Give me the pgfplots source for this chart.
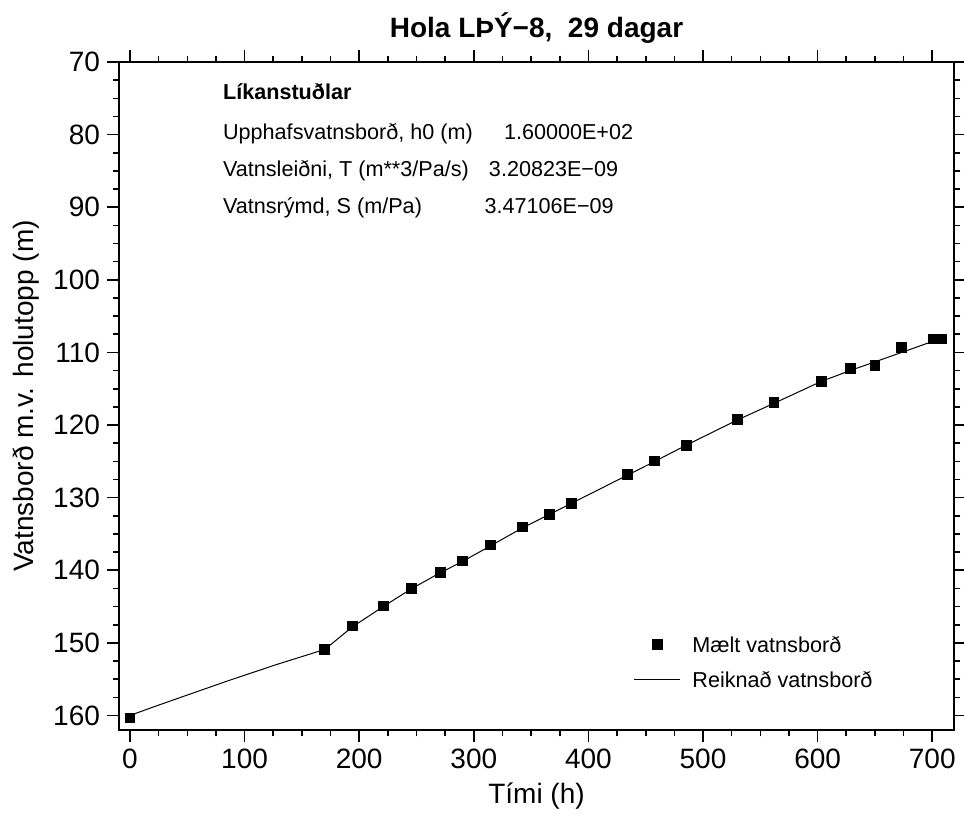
\documentclass[border=0pt]{standalone}
\usepackage{pgfplots}
\pgfplotsset{compat=1.18}
\usepackage{fontspec}
\setmainfont{Liberation Sans}
\pgfplotsset{
  markleg/.style={legend image code/.code={\draw[mark repeat=2,mark phase=2,##1] plot coordinates {(0pt,0pt) (11.5pt,0pt) (23pt,0pt)};}},
  lineleg/.style={legend image code/.code={\draw[##1] (0pt,0pt) -- (23pt,0pt);}},
}
\begin{document}
\begin{tikzpicture}
\path[use as bounding box] (-59.5pt,-44.5pt) rectangle (422.5pt,365pt);
\begin{axis}[
  at={(0pt,0pt)}, anchor=south west,
  scale only axis, width=417.5pt, height=334pt,
  xmin=-9.6, xmax=719, ymin=70, ymax=162, y dir=reverse,
  xtick={0,100,...,700}, ytick={70,80,...,160},
  minor x tick num=3, minor y tick num=3,
  tick align=outside,
  axis line style={line width=0.9pt},
  major tick length=6pt, minor tick length=3.2pt,
  every tick/.style={black, line width=0.8pt},
  tick label style={font=\fontsize{14}{16}\selectfont},
  /pgf/number format/assume math mode=true,
  xlabel={Tími (h)}, ylabel={Vatnsborð m.v. holutopp (m)},
  label style={font=\fontsize{14}{17}\selectfont},
  title={Hola LÞÝ−8,\ \ 29 dagar},
  title style={font=\fontsize{14}{17}\selectfont\bfseries},
  legend style={at={(axis cs:439.2,152.6)}, anchor=west, draw=none, fill=none,
    inner sep=0pt, font=\fontsize{10.8}{13}\selectfont,
    nodes={inner sep=0pt, text height=9pt, text depth=1pt},
    row sep=7.5pt, /tikz/every odd column/.append style={column sep=5.85pt}},
  legend cell align=left,
]
\addplot[black, only marks, mark=square*, mark size=2.33pt, markleg]
 coordinates {
 (0,160.3) (169.6,150.9) (194,147.7) (221,144.9) (245.5,142.5) (270.9,140.3)
 (290,138.7) (314.5,136.5) (342.4,134.0) (366,132.3) (385.2,130.8) (434,126.8)
 (457.6,124.9) (485.5,122.8) (530,119.2) (562,116.9) (603.4,114.0) (628.7,112.2)
 (649.7,111.8) (673.2,109.3) (701,108.1) (708,108.1)
 };
\addlegendentry{Mælt vatnsborð}
\addplot[black, line width=0.5pt, no marks, lineleg]
 coordinates {
 (0,160.0) (20,158.85) (42.5,157.6) (85,155.25) (127.5,153.0) (170,150.9)
 (194,147.8) (221,145.0) (245,142.6) (270,140.4) (290,138.8) (315,136.6)
 (342,134.2) (366,132.3) (385,130.8) (434,126.9) (458,125.0) (485,122.8)
 (530,119.3) (562,117.0) (603,114.0) (630,112.4) (650,111.3) (675,109.9)
 (700,108.5) (708,108.1)
 };
\addlegendentry{Reiknað vatnsborð}
\node[anchor=base west, font=\fontsize{10.8}{13}\selectfont\bfseries, inner sep=0pt] at (axis cs:80.9,75.23) {Líkanstuðlar};
\node[anchor=base west, font=\fontsize{10.8}{13}\selectfont, inner sep=0pt] at (axis cs:80.9,80.73) {Upphafsvatnsborð, h0 (m)};
\node[anchor=base west, font=\fontsize{10.8}{13}\selectfont, inner sep=0pt] at (axis cs:80.9,85.82) {Vatnsleiðni, T (m**3/Pa/s)};
\node[anchor=base west, font=\fontsize{10.8}{13}\selectfont, inner sep=0pt] at (axis cs:80.9,90.84) {Vatnsrýmd, S (m/Pa)};
\node[anchor=base west, font=\fontsize{10.8}{13}\selectfont, inner sep=0pt] at (axis cs:326.0,80.73) {1.60000E+02};
\node[anchor=base west, font=\fontsize{10.8}{13}\selectfont, inner sep=0pt] at (axis cs:312.9,85.82) {3.20823E−09};
\node[anchor=base west, font=\fontsize{10.8}{13}\selectfont, inner sep=0pt] at (axis cs:309.1,90.84) {3.47106E−09};
\end{axis}
\end{tikzpicture}
\end{document}
